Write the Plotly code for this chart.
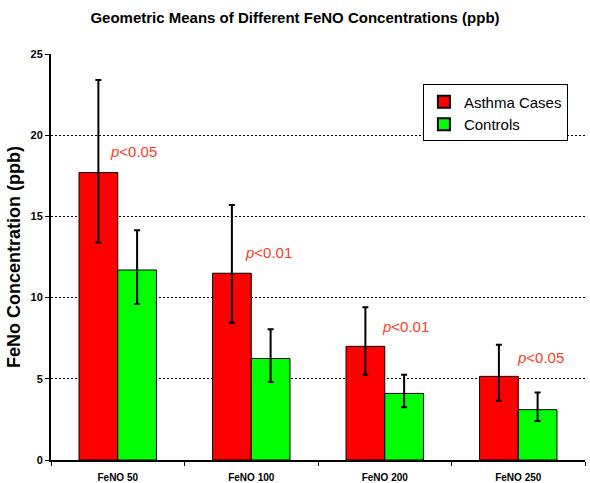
import plotly.graph_objects as go

categories = ["FeNO 50", "FeNO 100", "FeNO 200", "FeNO 250"]
asthma = [17.7, 11.5, 7.0, 5.15]
asthma_hi = [23.4, 15.7, 9.4, 7.1]
asthma_lo = [13.4, 8.45, 5.25, 3.65]
controls = [11.7, 6.25, 4.1, 3.1]
controls_hi = [14.15, 8.05, 5.25, 4.15]
controls_lo = [9.6, 4.8, 3.25, 2.4]
p_labels = ["<0.05", "<0.01", "<0.01", "<0.05"]
p_label_y = [19.0, 12.75, 8.2, 6.3]

font_family = "Liberation Sans, Arial, sans-serif"


def err(vals, hi, lo):
    return dict(
        type="data",
        symmetric=False,
        array=[h - v for h, v in zip(hi, vals)],
        arrayminus=[v - l for v, l in zip(vals, lo)],
        color="black",
        thickness=2,
        width=3,
    )


fig = go.Figure()
fig.add_trace(go.Bar(
    name="Asthma Cases", x=categories, y=asthma,
    marker=dict(color="#FF0000", line=dict(color="black", width=1)),
    error_y=err(asthma, asthma_hi, asthma_lo),
))
fig.add_trace(go.Bar(
    name="Controls", x=categories, y=controls,
    marker=dict(color="#00FF00", line=dict(color="black", width=1)),
    error_y=err(controls, controls_hi, controls_lo),
))

shifts = [-10, -8, -5, -3]
for cat, txt, y, s in zip(categories, p_labels, p_label_y, shifts):
    fig.add_annotation(
        x=cat, y=y, text="<i>p</i>" + txt, showarrow=False,
        xanchor="left", yanchor="middle", xshift=s,
        font=dict(family=font_family, size=15, color="#FF4020"),
    )

fig.update_layout(
    width=590, height=483,
    margin=dict(l=51, r=5, t=54, b=23, autoexpand=False),
    paper_bgcolor="white", plot_bgcolor="white",
    barmode="group", bargap=0.42, bargroupgap=0,
    title=dict(
        text="<b>Geometric Means of Different FeNO Concentrations (ppb)</b>",
        x=0.5, xanchor="center", y=0.963, yanchor="middle",
        font=dict(family=font_family, size=15, color="black"),
    ),
    font=dict(family=font_family, color="black"),
    showlegend=True,
    legend=dict(
        x=0.968, y=0.925, xanchor="right", yanchor="top",
        bgcolor="white", bordercolor="black", borderwidth=1,
        font=dict(family=font_family, size=15, color="black"),
        tracegroupgap=0, itemsizing="constant", itemwidth=30,
    ),
)

fig.update_xaxes(
    automargin=False,
    showline=True, linecolor="black", linewidth=2,
    ticks="outside", tickson="boundaries", ticklen=4, tickcolor="black",
    ticklabelstandoff=7,
    tickfont=dict(family=font_family, size=10, color="black", weight="bold"),
    showgrid=False,
)
fig.update_yaxes(
    automargin=False,
    range=[0, 25], dtick=5, tick0=0,
    showline=True, linecolor="black", linewidth=2,
    ticks="outside", ticklen=4, tickcolor="black",
    tickfont=dict(family=font_family, size=11, color="black", weight="bold"),
    showgrid=True, gridcolor="black", gridwidth=1, griddash="2px,2px",
    zeroline=False,
    title=dict(
        text="<b>FeNo Concentration (ppb)</b>", standoff=5,
        font=dict(family=font_family, size=18, color="black"),
    ),
)

fig.write_html("out.html")
